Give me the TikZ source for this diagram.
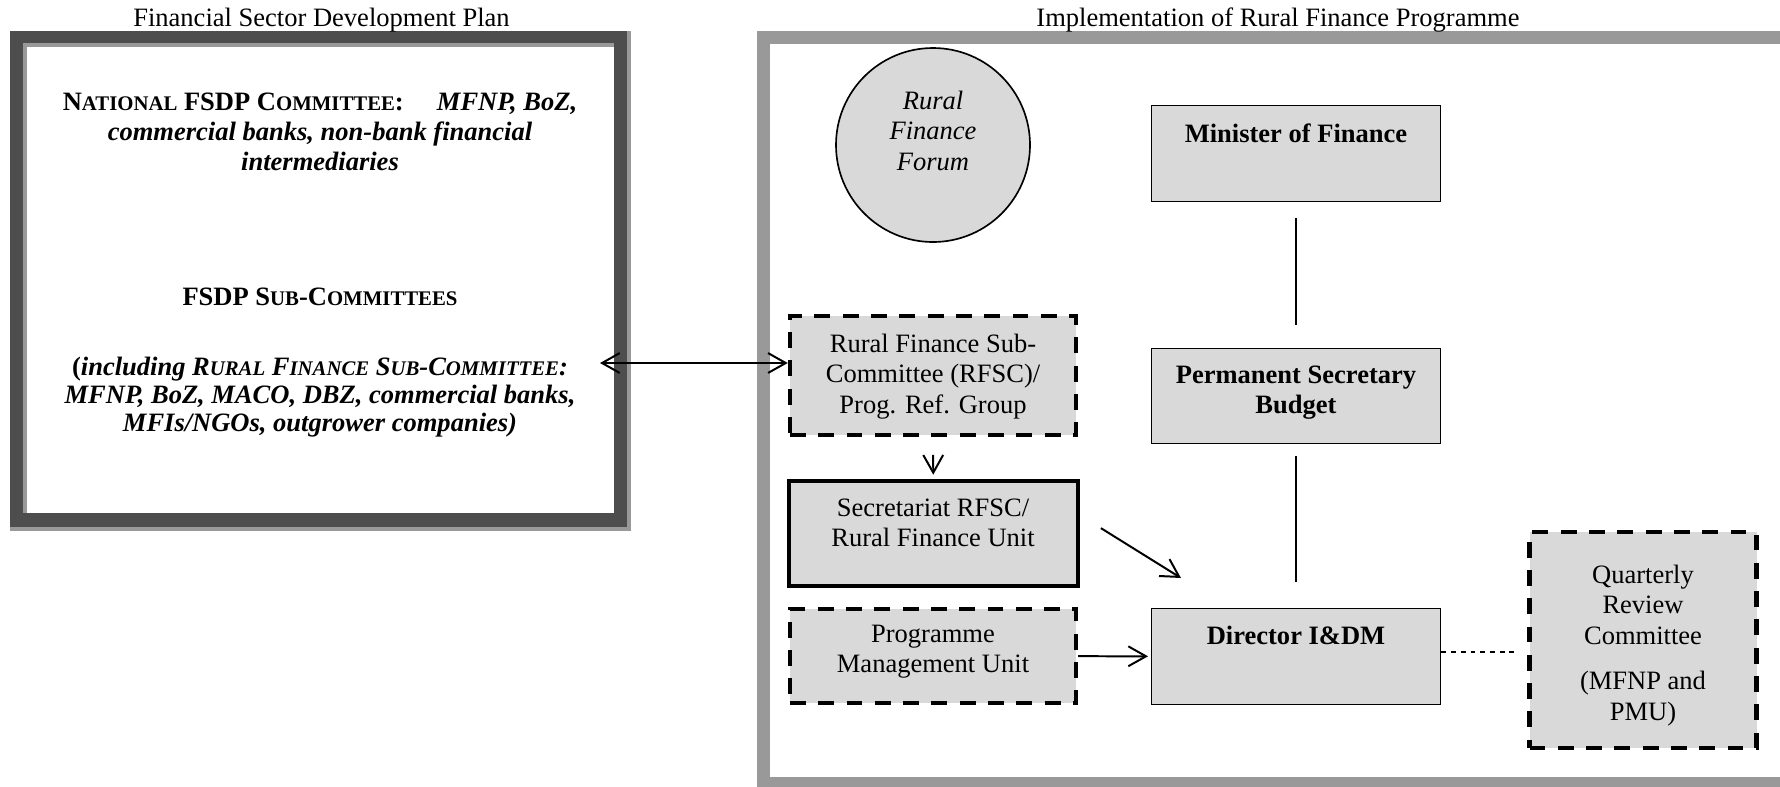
\documentclass[tikz,border=0pt]{standalone}
\usepackage{fontspec}
\setmainfont{Liberation Serif}
\usetikzlibrary{arrows.meta,calc}
\definecolor{boxgray}{HTML}{D9D9D9}
\definecolor{darkfr}{HTML}{4D4D4D}
\definecolor{lightfr}{HTML}{999999}
\def\pxu{0.4525pt}
\newcommand{\mlines}[1]{\begin{tabular}[t]{@{}c@{}}#1\end{tabular}}
\newcommand{\mysc}[1]{{\fontsize{9.4pt}{9.4pt}\selectfont #1}}
\begin{document}
\begin{tikzpicture}[x=0.4525pt,y=-0.4525pt,
  rtxt/.style={font=\fontsize{12pt}{14pt}\selectfont, inner sep=0pt},
  ltxt/.style={font=\bfseries\fontsize{12pt}{13.6pt}\selectfont, inner sep=0pt},
  ltxtb/.style={font=\bfseries\fontsize{12pt}{12.8pt}\selectfont, inner sep=0pt},
  box/.style={draw=black, fill=boxgray, line width=0.75pt, inner sep=0pt},
  sbox/.style={draw=black, fill=boxgray, line width=1.8pt, inner sep=0pt},
  dbox/.style={draw=black, fill=boxgray, line width=2pt, dash pattern=on 7.2pt off 5.6pt, inner sep=0pt},
  circ/.style={circle, draw=black, fill=boxgray, line width=0.75pt, inner sep=0pt},
  thinl/.style={line width=0.6pt},
  arr/.style={line width=0.9pt, -{Straight Barb[length=8pt,width=9pt]}},
  arrtwo/.style={line width=0.9pt, {Straight Barb[length=8pt,width=9pt]}-{Straight Barb[length=8pt,width=9pt]}},
  dotl/.style={line width=0.6pt, dash pattern=on 2.2pt off 2.2pt}
]
\useasboundingbox (0,0) rectangle (1780,786);
\clip (0,0) rectangle (1780,786);

% left frame
\fill[lightfr] (10,31) rectangle (630.7,531);
\fill[darkfr] (10,31) rectangle (626.7,526.7);
\fill[lightfr] (22.7,43.3) rectangle (614.3,513.3);
\fill[white] (26.7,46.7) rectangle (614.3,513.3);

% right frame
\fill[lightfr] (757,31) rectangle (1810,800);
\fill[white] (769.5,43.5) rectangle (1810,777);

% titles
\node[rtxt, anchor=base] (ttl) at (321.5,26) {Financial Sector Development Plan};
\node[rtxt, anchor=base] (ttr) at (1278,26) {Implementation of Rural Finance Programme};

% left text
\node[ltxt, anchor=base] (nat) at (320,110) {\mlines{N\mysc{ATIONAL} FSDP C\mysc{OMMITTEE}:\hspace{15pt}\textit{MFNP, BoZ,}\\ \textit{commercial banks, non-bank financial}\\ \textit{intermediaries}}};
\node[ltxt, anchor=base] (sub) at (320,305) {FSDP S\mysc{UB}-C\mysc{OMMITTEES}};
\node[ltxtb, anchor=base] (incl) at (320,375) {\mlines{(\textit{including R\mysc{URAL} F\mysc{INANCE} S\mysc{UB}-C\mysc{OMMITTEE}:}\\ \textit{MFNP, BoZ, MACO, DBZ, commercial banks,}\\ \textit{MFIs/NGOs, outgrower companies)}}};

% right nodes
\node[circ, minimum size={194*\pxu}] (forum) at (933,145) {};
\node[rtxt, anchor=base] (forumt) at (933,109) {\itshape\mlines{Rural\\Finance\\Forum}};

\node[box, minimum width={289*\pxu}, minimum height={96*\pxu}] (min) at (1296,153.5) {};
\node[rtxt, anchor=base] (mint) at (1296,142) {\textbf{Minister of Finance}};

\node[box, minimum width={289*\pxu}, minimum height={95*\pxu}] (ps) at (1296,396) {};
\node[rtxt, anchor=base] (pst) at (1296,383) {\bfseries\mlines{Permanent Secretary\\Budget}};

\node[box, minimum width={289*\pxu}, minimum height={96*\pxu}] (dir) at (1296,656.5) {};
\node[rtxt, anchor=base] (dirt) at (1296,644) {\textbf{Director I\&DM}};

\node[dbox, minimum width={286*\pxu}, minimum height={119*\pxu}] (rfsc) at (933,375.5) {};
\node[rtxt, anchor=base] (rfsct) at (933,352) {\mlines{Rural Finance Sub-\\Committee (RFSC)/\\Prog. Ref. Group}};

\node[sbox, minimum width={289*\pxu}, minimum height={105*\pxu}] (sec) at (933.4,533.6) {};
\node[rtxt, anchor=base] (sect) at (933,516) {\mlines{Secretariat RFSC/\\Rural Finance Unit}};

\node[dbox, minimum width={286*\pxu}, minimum height={94*\pxu}] (pmu) at (933,656) {};
\node[rtxt, anchor=base] (pmut) at (933,642) {\mlines{Programme\\Management Unit}};

\node[dbox, minimum width={227*\pxu}, minimum height={215.5*\pxu}] (qrc) at (1643,640) {};
\node[rtxt, anchor=base] (qrct) at (1643,583) {\mlines{Quarterly\\Review\\Committee\\[6.3pt](MFNP and\\PMU)}};

% connectors
\draw[thinl, shorten <=7.2pt, shorten >=10.2pt] (min) -- (ps);
\draw[thinl, shorten <=5.2pt, shorten >=11.6pt] (ps) -- (dir);
\draw[arr, shorten <=8pt, shorten >=2pt] (rfsc) -- (sec);
\coordinate (d1) at ($(sec.east)+(21,-5.5)$);
\coordinate (d2) at ($(dir.north west)+(30.3,-29.7)$);
\draw[arr] (d1) -- (d2);
\draw[arr, shorten >=1.2pt] (pmu) -- (dir);
\draw[dotl, shorten >=5.2pt] ([yshift=2pt]dir.east) -- ([yshift=2pt]dir.east -| qrc.west);
\coordinate (fsdpend) at (600,363);
\draw[arrtwo] (fsdpend) -- (fsdpend -| rfsc.west);
\end{tikzpicture}
\end{document}
